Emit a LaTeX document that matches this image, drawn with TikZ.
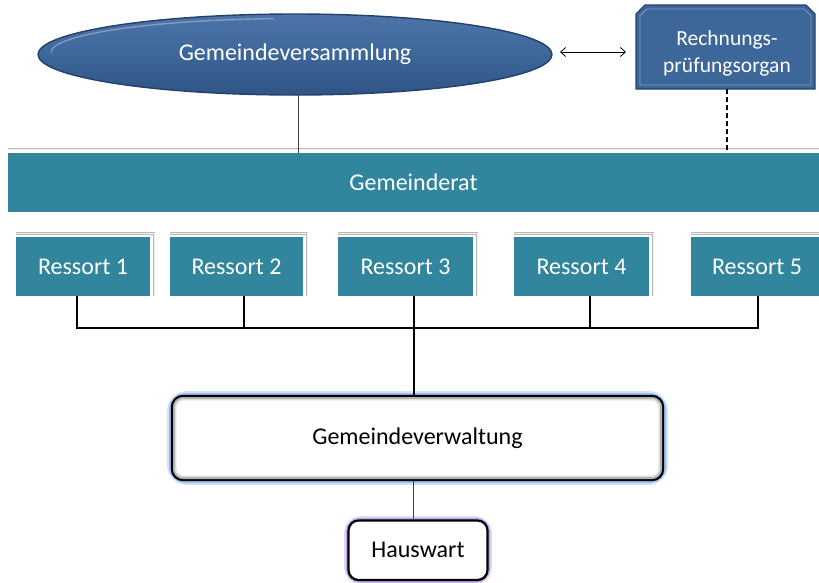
\documentclass[tikz,border=0pt]{standalone}
\usepackage{fontspec}
\setmainfont{Carlito}
\usetikzlibrary{shapes.geometric,arrows.meta,calc}
\definecolor{teal1}{HTML}{31859C}
\definecolor{blue1}{HTML}{3D6699}
\definecolor{blueTop}{HTML}{4D74A8}
\definecolor{blueBot}{HTML}{2F5486}
\definecolor{blueEdge}{HTML}{24416B}
\definecolor{glowblue}{HTML}{9DC0EC}
\definecolor{glowblueL}{HTML}{D3E3F7}
\definecolor{glowpurple}{HTML}{B9A3E0}
\definecolor{glowpurpleL}{HTML}{E2D8F3}
\tikzset{
  txt/.style={font=\fontsize{24}{28}\selectfont},
  teal box/.style={fill=teal1, text=white, txt, inner sep=0pt, anchor=center},
  ressort/.style={teal box, minimum width=134pt, minimum height=59pt},
  shadowline/.style={draw=gray!55, double=gray!12, double distance=0.8pt, line width=0.7pt},
  conn/.style={draw=black, line width=1.8pt},
  thinconn/.style={draw=black!75, line width=0.9pt},
}
\begin{document}
\begin{tikzpicture}[x=1pt, y=-1pt]
\useasboundingbox (0,0) rectangle (819,582);
% Gemeindeversammlung
\node[ellipse, minimum width=514pt, minimum height=81pt, inner sep=0pt,
  top color=blueTop, bottom color=blueBot, middle color=blue1,
  draw=blueEdge, line width=1.4pt, text=white, txt] (ge) at (295,54.5) {Gemeindeversammlung};
\draw[white!55!blue1, line width=1.4pt, opacity=0.6, line cap=round]
  (ge.center) ++(-244pt,2pt) arc[start angle=180, end angle=95, x radius=244pt, y radius=34pt];
% Rechnungspruefungsorgan
\fill[blue1] (636,89) -- (636,14) -- (645,5) -- (806,5) -- (815,14) -- (815,89) -- cycle;
\draw[blueEdge, line width=1.3pt] (636,89) -- (636,14) -- (645,5) -- (806,5) -- (815,14) -- (815,89) -- cycle;
\draw[white!35!blue1, line width=0.8pt] (640,85) -- (640,15.5) -- (647,9) -- (804,9) -- (811,15.5) -- (811,85) -- cycle;
\node[text=white, align=center, font=\fontsize{21.5}{27}\selectfont, inner sep=0pt] (rp) at (727,53.5) {Rechnungs-\\prüfungsorgan};
\coordinate (rpS) at (727,89);
\coordinate (rpW) at (636,52);
% arrow
\draw[{Straight Barb[length=5pt,width=9pt]}-{Straight Barb[length=5pt,width=9pt]}, line width=0.8pt]
  ($(rpW)+(-76pt,0)$) -- ($(rpW)+(-10pt,0)$);
% Gemeinderat
\draw[shadowline] (8,149) -- (819,149);
\node[teal box, minimum width=811pt, minimum height=59pt] (gr) at (413.5,182.5) {Gemeinderat};
% connectors top
\draw[thinconn] (298,95) -- (gr.north -| 298,0);
\draw[black, line width=1.6pt, dash pattern=on 5pt off 3pt] (rpS) -- (gr.north -| rpS);
% Ressorts
\foreach \n/\cx/\w in {1/83/134, 2/236.5/133, 3/405.5/135, 4/581.5/135}{
  \draw[shadowline] (\cx-\w/2,233.5) -- (\cx+\w/2+4,233.5) -- (\cx+\w/2+4,296);
  \node[ressort, minimum width=\w pt] (r\n) at (\cx,266.5) {Ressort \n};
}
\draw[shadowline] (691,233.5) -- (819,233.5);
\fill[teal1] (691,237) rectangle (819,296);
\node[text=white, txt, inner sep=0pt] (r5) at (757,266.5) {Ressort 5};
\coordinate (r5s) at (758,296);
% Gemeindeverwaltung
\draw[glowblueL, line width=10pt, rounded corners=15pt] (172,396) rectangle (663,480);
\draw[glowblue, line width=6pt, rounded corners=13pt] (172,396) rectangle (663,480);
\node[draw=black, line width=2.4pt, fill=white, rounded corners=11pt, minimum width=491pt, minimum height=84pt,
  inner sep=0pt, txt] (gv) at (417.5,438) {Gemeindeverwaltung};
\draw[gray!60, line width=2pt, rounded corners=9pt] ([shift={(3.2pt,-3.2pt)}]gv.north west) rectangle ([shift={(-3.2pt,3.2pt)}]gv.south east);
\draw[gray!25, line width=1.2pt, rounded corners=8pt] ([shift={(5pt,-5pt)}]gv.north west) rectangle ([shift={(-5pt,5pt)}]gv.south east);
% bus
\draw[conn] (r1.south -| 77,0) -- (77,328) -- (758,328) -- (r5s);
\draw[conn] (r2.south -| 244,0) -- (244,328);
\draw[conn] (r4.south -| 590,0) -- (590,328);
\draw[conn] (r3.south -| 414,0) -- (gv.north -| 414,0);
% Hauswart
\draw[glowpurpleL, line width=9pt, rounded corners=13pt] (348.5,520.5) rectangle (487.5,580);
\draw[glowpurple, line width=5pt, rounded corners=11pt] (348.5,520.5) rectangle (487.5,580);
\node[draw=black, line width=2.2pt, fill=white, rounded corners=10pt, minimum width=139pt, minimum height=59.5pt,
  inner sep=0pt, txt] (hw) at (418,550.25) {Hauswart};
\draw[thinconn] (gv.south -| 413,0) -- (hw.north -| 413,0);
\end{tikzpicture}
\end{document}
